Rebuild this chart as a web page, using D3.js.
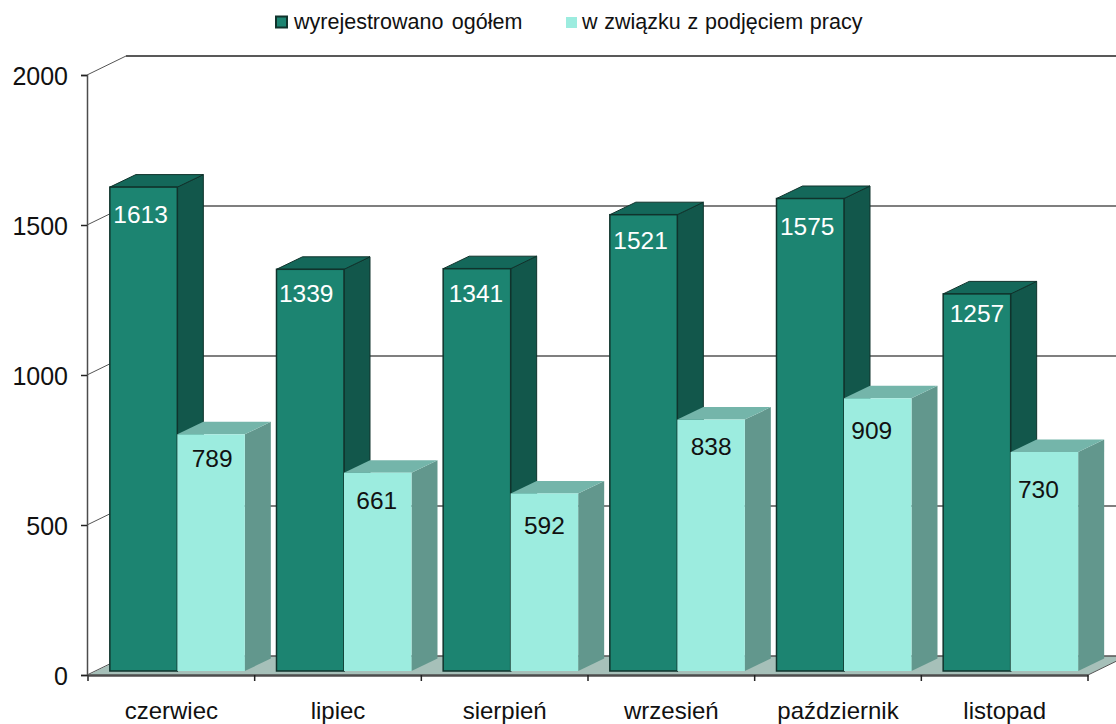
<!DOCTYPE html>
<html>
<head>
<meta charset="utf-8">
<script src="https://cdn.jsdelivr.net/npm/d3@7"></script>
<style>
  html, body { margin: 0; padding: 0; background: #fff; }
  text { font-family: "Liberation Sans", Arial, sans-serif; }
</style>
</head>
<body>
<div id="container"></div>
<script>
const months = ["czerwiec", "lipiec", "sierpień", "wrzesień", "październik", "listopad"];
const total = [1613, 1339, 1341, 1521, 1575, 1257];
const employed = [789, 661, 592, 838, 909, 730];
const yTicks = [0, 500, 1000, 1500, 2000];

// label nudges from the bar's centre and top, they are not regular in the original
const totalNudge = [[-3, 27], [-4, 24], [-1, 24], [-3, 25], [-3, 28], [0, 19]];
const employedNudge = [[1, 24], [-1, 27], [0, 32], [0, 27], [-6, 32], [-6, 37]];

const width = 1116, height = 724;

const svg = d3.select("#container").append("svg")
  .attr("width", width)
  .attr("height", height)
  .style("display", "block");

const x = d3.scaleBand().domain(months).range([88, 1088]);
const y = d3.scaleLinear().domain([0, 2000]).range([675, 75]);

// 3d offsets: back wall, and bar depth / position on the floor
const wall = {dx: 39, dy: -19};
const depth = {dx: 26, dy: -12.5};
const front = {dx: 6, dy: -4};
const barW = 67.5;
const gap = (x.bandwidth() - 2 * barW) / 2;

const axisColor = "#4d4d4d";

// floor
svg.append("polygon")
  .attr("points", [[88, y(0)], [1088, y(0)], [1088 + wall.dx, y(0) + wall.dy], [88 + wall.dx, y(0) + wall.dy]].join(" "))
  .attr("fill", "#a6c0b9");

// grid on the back wall and on the left wall
svg.selectAll(".grid")
  .data(yTicks)
  .enter()
  .append("line")
  .attr("x1", 87 + wall.dx)
  .attr("x2", width)
  .attr("y1", d => y(d) + wall.dy)
  .attr("y2", d => y(d) + wall.dy)
  .attr("stroke", d => d === 2000 ? "#222" : "#555")
  .attr("stroke-width", 1.5);

svg.selectAll(".wall-line")
  .data(yTicks)
  .enter()
  .append("line")
  .attr("x1", 87)
  .attr("x2", 87 + wall.dx)
  .attr("y1", d => y(d))
  .attr("y2", d => y(d) + wall.dy)
  .attr("stroke", "#555")
  .attr("stroke-width", 1);

// axes
const yAxis = svg.append("g").attr("transform", "translate(87,0)")
  .call(d3.axisLeft(y).tickValues(yTicks).tickSize(6).tickPadding(13).tickFormat(d3.format("d")));
const xAxis = svg.append("g").attr("transform", `translate(0,${y(0)})`)
  .call(d3.axisBottom(x).tickSize(0).tickPadding(27));

yAxis.select(".domain").attr("stroke", axisColor).attr("stroke-width", 1.5);
yAxis.selectAll("line").attr("stroke", "#222").attr("stroke-width", 1.5);
yAxis.selectAll("text").attr("font-size", 25).attr("dy", "0.38em").attr("fill", "#111").attr("font-family", "Liberation Sans");

xAxis.select(".domain").attr("stroke", axisColor).attr("stroke-width", 2.5);
xAxis.selectAll("text").attr("font-size", 24).attr("fill", "#111").attr("font-family", "Liberation Sans");

// x ticks sit between the categories
xAxis.selectAll(".edge-tick")
  .data(months.concat("end"))
  .enter()
  .append("line")
  .attr("x1", (d, i) => 88 + i * x.step())
  .attr("x2", (d, i) => 88 + i * x.step())
  .attr("y1", 0)
  .attr("y2", 6)
  .attr("stroke", "#222")
  .attr("stroke-width", 1.5);

// right end of the floor edge
svg.append("line")
  .attr("x1", 1088).attr("y1", y(0))
  .attr("x2", 1088 + wall.dx).attr("y2", y(0) + wall.dy)
  .attr("stroke", "#555");

const seriesStyle = [
  {values: total, front: "#1c8471", side: "#12574b", top: "#14685a", stroke: "#10332c", label: "#fff", nudge: totalNudge},
  {values: employed, front: "#9cecdf", side: "#62978d", top: "#74b5aa", stroke: "none", label: "#111", nudge: employedNudge}
];

function drawBar(g, bx, v, s) {
  const top = y(v) + front.dy;
  const bottom = y(0) + front.dy;
  g.append("polygon")
    .attr("points", [[bx + barW, top], [bx + barW + depth.dx, top + depth.dy], [bx + barW + depth.dx, bottom + depth.dy], [bx + barW, bottom]].join(" "))
    .attr("fill", s.side)
    .attr("stroke", s.stroke);
  g.append("polygon")
    .attr("points", [[bx, top], [bx + depth.dx, top + depth.dy], [bx + barW + depth.dx, top + depth.dy], [bx + barW, top]].join(" "))
    .attr("fill", s.top)
    .attr("stroke", s.stroke);
  g.append("rect")
    .attr("x", bx)
    .attr("y", top)
    .attr("width", barW)
    .attr("height", bottom - top)
    .attr("fill", s.front)
    .attr("stroke", s.stroke)
    .attr("stroke-width", 1.5);
}

months.forEach((m, i) => {
  const g = svg.append("g").attr("class", "month");
  seriesStyle.forEach((s, k) => {
    drawBar(g, x(m) + gap + front.dx + k * barW, s.values[i], s);
  });
});

// labels last so that nothing covers them
months.forEach((m, i) => {
  seriesStyle.forEach((s, k) => {
    const bx = x(m) + gap + front.dx + k * barW;
    svg.append("text")
      .attr("x", bx + barW / 2 + s.nudge[i][0])
      .attr("y", y(s.values[i]) + front.dy + s.nudge[i][1])
      .attr("dy", "0.36em")
      .attr("text-anchor", "middle")
      .attr("font-size", 24.5)
      .attr("fill", s.label)
      .text(s.values[i]);
  });
});

// legend
svg.append("rect")
  .attr("x", 276).attr("y", 16.5)
  .attr("width", 11).attr("height", 11)
  .attr("fill", "#1c8471")
  .attr("stroke", "#10332c")
  .attr("stroke-width", 2);
svg.append("text")
  .attr("x", 294).attr("y", 29)
  .attr("font-size", 21.5).attr("fill", "#111")
  .attr("word-spacing", 2.5)
  .text("wyrejestrowano ogółem");
svg.append("rect")
  .attr("x", 566).attr("y", 17)
  .attr("width", 11).attr("height", 11)
  .attr("fill", "#9cecdf");
svg.append("text")
  .attr("x", 582).attr("y", 29)
  .attr("font-size", 21.5).attr("fill", "#111")
  .attr("word-spacing", 0.8)
  .text("w związku z podjęciem pracy");
</script>
</body>
</html>
